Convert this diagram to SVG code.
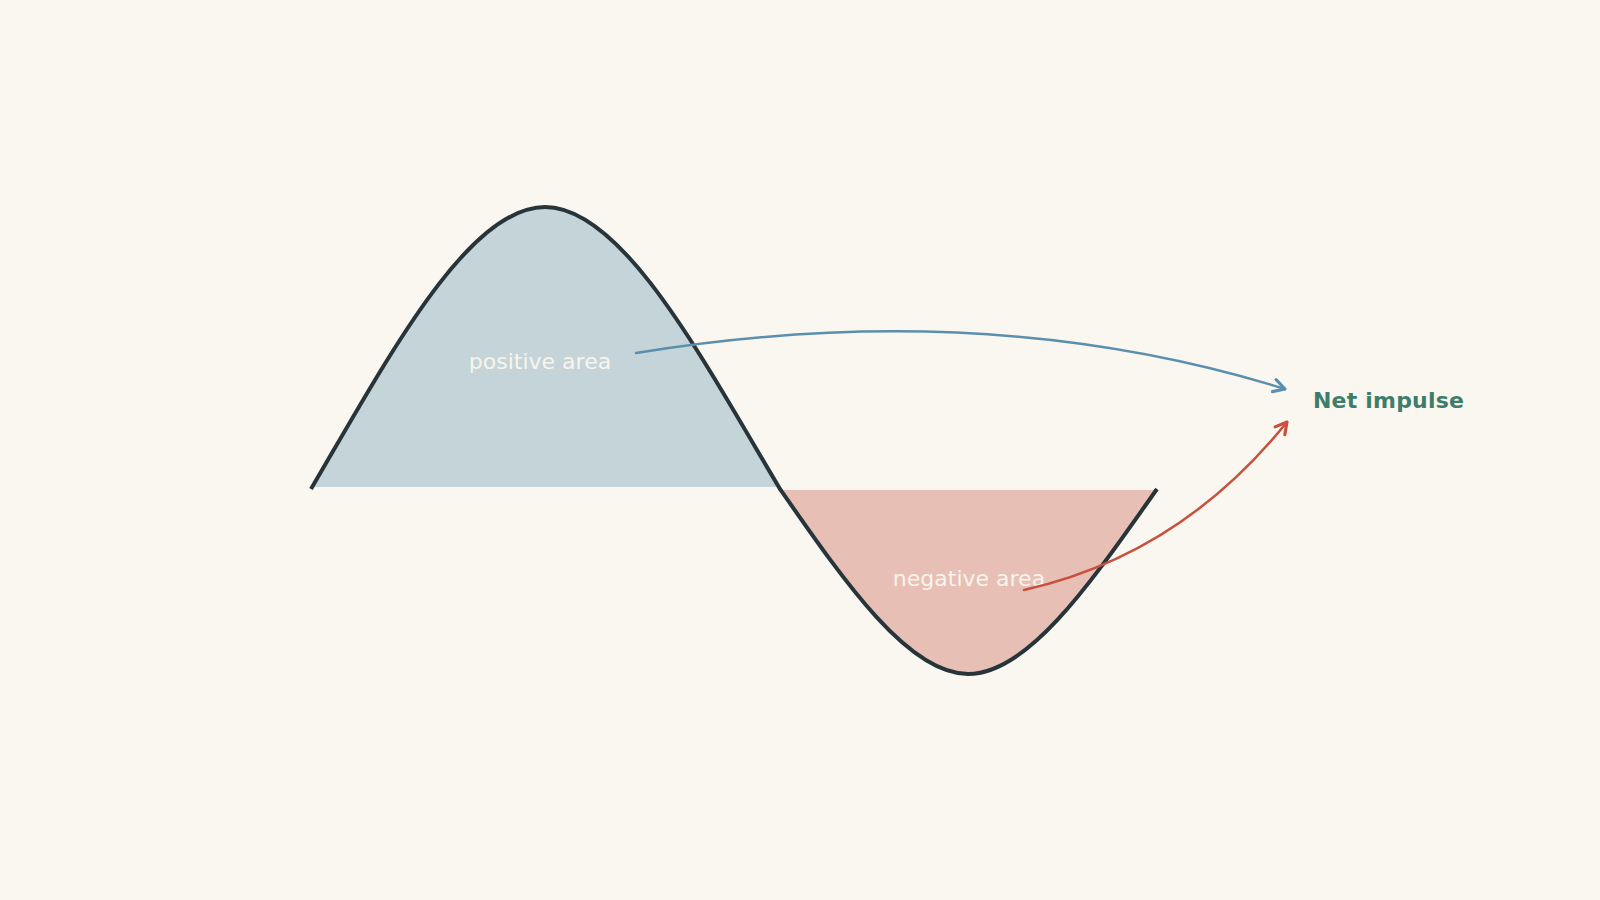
<svg xmlns="http://www.w3.org/2000/svg" width="1600" height="900" viewBox="0 0 1600 900">
  <defs>
    <style>
      .lbl { font-family: "DejaVu Sans", "Liberation Sans", sans-serif; font-size: 22px; fill: #f8f4ec; text-anchor: middle; }
      .title { font-family: "DejaVu Sans", "Liberation Sans", sans-serif; font-size: 22px; font-weight: bold; fill: #3e7d6a; letter-spacing: 0.2px; }
      .curve { fill: none; stroke: #27353b; stroke-width: 4; stroke-linejoin: round; }
      .conn { fill: none; stroke-width: 2.5; stroke-linecap: round; }
    </style>
    <clipPath id="clipPos"><rect x="0" y="0" width="1600" height="487"/></clipPath>
    <clipPath id="clipNeg"><rect x="0" y="490" width="1600" height="410"/></clipPath>
    <marker id="arrBlue" markerUnits="userSpaceOnUse" markerWidth="20" markerHeight="20" viewBox="-12 -8 14 16" refX="0" refY="0" orient="auto">
      <path d="M-9,-5 L0,0 L-9,5" fill="none" stroke="#5a8fad" stroke-width="2.5" stroke-linecap="round" stroke-linejoin="round"/>
    </marker>
    <marker id="arrRed" markerUnits="userSpaceOnUse" markerWidth="20" markerHeight="20" viewBox="-12 -8 14 16" refX="0" refY="0" orient="auto">
      <path d="M-9,-5 L0,0 L-9,5" fill="none" stroke="#c8503e" stroke-width="2.5" stroke-linecap="round" stroke-linejoin="round"/>
    </marker>
  </defs>
  <rect x="0" y="0" width="1600" height="900" fill="#faf7f0"/>

  <g id="positive-area">
    <path d="M311,489 C389,356 468,207 545,207 C622,207 701,356 780,489 Z" fill="#c4d4d9" clip-path="url(#clipPos)"/>
  </g>
  <g id="negative-area">
    <path d="M780,489 C844,581 908,674 968,674 C1029,674 1092,581 1157,489 Z" fill="#e7bfb5" clip-path="url(#clipNeg)"/>
  </g>
  <g id="force-curve">
    <path class="curve" d="M311,489 C389,356 468,207 545,207 C622,207 701,356 780,489 C844,581 908,674 968,674 C1029,674 1092,581 1157,489"/>
  </g>

  <g id="label-positive">
    <text class="lbl" x="540" y="369">positive area</text>
  </g>
  <g id="label-negative">
    <text class="lbl" x="969" y="586">negative area</text>
  </g>
  <g id="net-impulse">
    <text class="title" x="1313" y="408">Net impulse</text>
  </g>

  <g id="connectors">
    <path class="conn" stroke="#5a8fad" d="M636,353 Q985,296 1285,389" marker-end="url(#arrBlue)"/>
    <path class="conn" stroke="#c8503e" d="M1024,590 Q1180,555 1287,422" marker-end="url(#arrRed)"/>
  </g>
</svg>
